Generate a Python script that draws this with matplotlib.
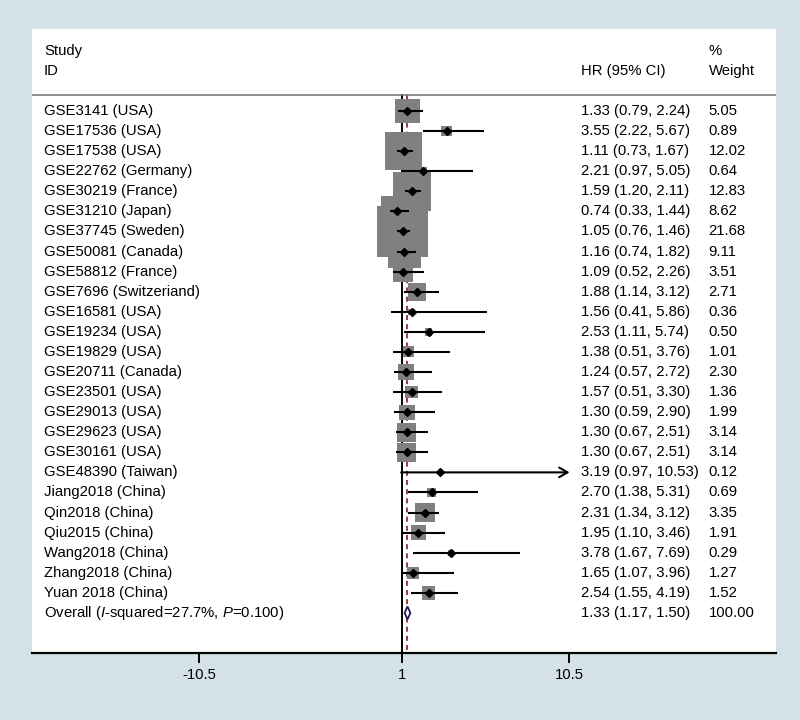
import numpy as np
import matplotlib
matplotlib.use("Agg")
from matplotlib import pyplot as plt
from matplotlib.patches import Polygon

plt.rcParams['font.family'] = ['Liberation Sans', 'DejaVu Sans']
plt.rcParams['mathtext.fontset'] = 'custom'
plt.rcParams['mathtext.rm'] = 'Liberation Sans'
plt.rcParams['mathtext.it'] = 'Liberation Sans:italic'

studies = [
    "GSE3141 (USA)", "GSE17536 (USA)", "GSE17538 (USA)", "GSE22762 (Germany)",
    "GSE30219 (France)", "GSE31210 (Japan)", "GSE37745 (Sweden)", "GSE50081 (Canada)",
    "GSE58812 (France)", "GSE7696 (Switzeriand)", "GSE16581 (USA)", "GSE19234 (USA)",
    "GSE19829 (USA)", "GSE20711 (Canada)", "GSE23501 (USA)", "GSE29013 (USA)",
    "GSE29623 (USA)", "GSE30161 (USA)", "GSE48390 (Taiwan)", "Jiang2018 (China)",
    "Qin2018 (China)", "Qiu2015 (China)", "Wang2018 (China)", "Zhang2018 (China)",
    "Yuan 2018 (China)",
]
hr = [1.33, 3.55, 1.11, 2.21, 1.59, 0.74, 1.05, 1.16, 1.09, 1.88, 1.56, 2.53, 1.38,
      1.24, 1.57, 1.30, 1.30, 1.30, 3.19, 2.70, 2.31, 1.95, 3.78, 1.65, 2.54]
ci_low = [0.79, 2.22, 0.73, 0.97, 1.20, 0.33, 0.76, 0.74, 0.52, 1.14, 0.41, 1.11, 0.51,
          0.57, 0.51, 0.59, 0.67, 0.67, 0.97, 1.38, 1.34, 1.10, 1.67, 1.07, 1.55]
ci_high = [2.24, 5.67, 1.67, 5.05, 2.11, 1.44, 1.46, 1.82, 2.26, 3.12, 5.86, 5.74, 3.76,
           2.72, 3.30, 2.90, 2.51, 2.51, 10.53, 5.31, 3.12, 3.46, 7.69, 3.96, 4.19]
weight = [5.05, 0.89, 12.02, 0.64, 12.83, 8.62, 21.68, 9.11, 3.51, 2.71, 0.36, 0.50, 1.01,
          2.30, 1.36, 1.99, 3.14, 3.14, 0.12, 0.69, 3.35, 1.91, 0.29, 1.27, 1.52]

overall_label = "Overall ($\\mathit{I}$-squared=27.7%, $\\mathit{P}$=0.100)"
overall_hr, overall_low, overall_high = 1.33, 1.17, 1.50
overall_weight = 100.00

tick_values = [-10.5, 1, 10.5]
tick_labels = ["-10.5", "1", "10.5"]
x_max = 10.5

fig = plt.figure(figsize=(8, 7.2), dpi=100, facecolor='#d4e2e7')
ax = fig.add_axes([0.04, 0.0935, 0.9296, 0.8656])
ax.set_facecolor('white')
ax.set_xlim(-19.98, 22.23)
ax.set_ylim(-26.98, 4.06)

rows = -np.arange(len(studies))
fs = 10.7
trans = ax.get_yaxis_transform()

# reference lines
ax.plot([1, 1], [0.8, -26.98], color='black', lw=1.4, zorder=1)
ax.plot([overall_hr, overall_hr], [0.8, -26.98], color='#8b1a1a', lw=1.2,
        ls=(0, (3, 2.5)), zorder=1)

# weight boxes, side ~ sqrt(weight)
side_px = 10.8 * np.sqrt(weight)
ax.scatter(hr, rows, s=(side_px * 0.72) ** 2, marker='s', color='#808080',
           linewidths=0, zorder=2)

for y, est, lo, hi in zip(rows, hr, ci_low, ci_high):
    if hi > x_max:
        ax.annotate("", xy=(hi, y), xytext=(lo, y),
                    arrowprops=dict(arrowstyle='->,head_length=0.6,head_width=0.35',
                                    color='black', lw=1.5, shrinkA=0, shrinkB=0),
                    zorder=3)
    else:
        ax.plot([lo, hi], [y, y], color='black', lw=1.5, solid_capstyle='butt', zorder=3)
    ax.plot(est, y, marker='D', ms=4.5, color='black', zorder=4)

y_ov = -len(studies)
h = 0.32
ax.add_patch(Polygon([(overall_low, y_ov), (overall_hr, y_ov + h), (overall_high, y_ov),
                      (overall_hr, y_ov - h)], closed=True, facecolor='white',
                     edgecolor='#1c1c5a', lw=1.3, zorder=4))

# text columns
for y, name, est, lo, hi, w in zip(rows, studies, hr, ci_low, ci_high, weight):
    ax.text(0.0161, y, name, transform=trans, fontsize=fs, va='center', ha='left')
    ax.text(0.738, y, f"{est:.2f} ({lo:.2f}, {hi:.2f})", transform=trans,
            fontsize=fs, va='center', ha='left')
    ax.text(0.910, y, f"{w:.2f}", transform=trans, fontsize=fs, va='center', ha='left')
ax.text(0.0161, y_ov, overall_label, transform=trans, fontsize=fs, va='center', ha='left')
ax.text(0.738, y_ov, f"{overall_hr:.2f} ({overall_low:.2f}, {overall_high:.2f})",
        transform=trans, fontsize=fs, va='center', ha='left')
ax.text(0.910, y_ov, f"{overall_weight:.2f}", transform=trans, fontsize=fs,
        va='center', ha='left')

# header
ax.text(0.0161, 3.0, "Study", transform=trans, fontsize=fs, va='center', ha='left')
ax.text(0.0161, 1.98, "ID", transform=trans, fontsize=fs, va='center', ha='left')
ax.text(0.738, 1.98, "HR (95% CI)", transform=trans, fontsize=fs, va='center', ha='left')
ax.text(0.910, 2.98, "%", transform=trans, fontsize=fs, va='center', ha='left')
ax.text(0.910, 1.98, "Weight", transform=trans, fontsize=fs, va='center', ha='left')
ax.axhline(0.8, color='#707070', lw=1.1)

for side in ['top', 'left', 'right']:
    ax.spines[side].set_visible(False)
ax.spines['bottom'].set_linewidth(1.6)
ax.set_yticks([])
ax.set_xticks(tick_values, tick_labels)
ax.tick_params(axis='x', direction='out', length=7, width=1.4, labelsize=fs, pad=4)

fig.savefig("out.png", dpi=100, facecolor=fig.get_facecolor())
